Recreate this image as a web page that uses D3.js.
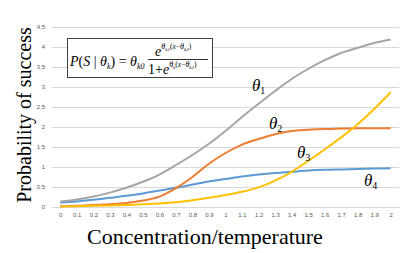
<!DOCTYPE html>
<html>
<head>
<meta charset="utf-8">
<script src="https://cdn.jsdelivr.net/npm/d3@7"></script>
<style>
  body { margin: 0; background: #fff; }
  svg { display: block; }
</style>
</head>
<body>
<div id="chart"></div>
<script>
const categories = ["0", "0.1", "0.2", "0.3", "0.4", "0.5", "0.6", "0.7", "0.8", "0.9", "1",
  "1.1", "1.2", "1.3", "1.4", "1.5", "1.6", "1.7", "1.8", "1.9", "2"];
const yTicks = [0, 0.5, 1, 1.5, 2, 2.5, 3, 3.5, 4, 4.5];

// four curves, one value per category
const theta1 = [0.14, 0.19, 0.26, 0.36, 0.48, 0.63, 0.81, 1.05, 1.30, 1.58, 1.90,
  2.25, 2.58, 2.90, 3.20, 3.45, 3.67, 3.85, 3.98, 4.10, 4.19];
const theta2 = [0.02, 0.03, 0.05, 0.07, 0.10, 0.16, 0.26, 0.47, 0.75, 1.08, 1.35,
  1.56, 1.70, 1.82, 1.90, 1.93, 1.95, 1.96, 1.97, 1.97, 1.97];
const theta3 = [0.01, 0.02, 0.03, 0.04, 0.05, 0.07, 0.09, 0.12, 0.17, 0.23, 0.30,
  0.38, 0.49, 0.66, 0.88, 1.15, 1.44, 1.74, 2.07, 2.45, 2.87];
const theta4 = [0.11, 0.14, 0.18, 0.23, 0.28, 0.34, 0.41, 0.48, 0.56, 0.64, 0.70,
  0.76, 0.81, 0.85, 0.88, 0.91, 0.93, 0.94, 0.95, 0.96, 0.97];
const seriesNames = ["1", "2", "3", "4"];

const W = 415, H = 253;
const PLOT = { LEFT: 52, RIGHT: 399, TOP: 27, BOTTOM: 207 };

const svg = d3.select("#chart").append("svg")
  .attr("width", W)
  .attr("height", H);

const x = d3.scalePoint()
  .domain(categories)
  .range([PLOT.LEFT, PLOT.RIGHT])
  .padding(0.5);

const y = d3.scaleLinear()
  .domain([0, 4.5])
  .range([PLOT.BOTTOM, PLOT.TOP]);

// gridlines + y labels
const yAxis = d3.axisLeft(y)
  .tickValues(yTicks)
  .tickSize(-(PLOT.RIGHT - PLOT.LEFT))
  .tickPadding(7)
  .tickFormat(d3.format("~g"));

svg.append("g")
  .attr("transform", `translate(${PLOT.LEFT},0)`)
  .call(yAxis)
  .call(g => g.select(".domain").remove())
  .call(g => g.selectAll("line").attr("stroke", "#d9d9d9"))
  .call(g => g.selectAll("text")
    .attr("fill", "#595959")
    .attr("font-family", "Liberation Sans, Arial, sans-serif")
    .attr("font-size", 6));

// x labels
const xAxis = d3.axisBottom(x).tickSize(0).tickPadding(6);
svg.append("g")
  .attr("transform", `translate(0,${PLOT.BOTTOM})`)
  .call(xAxis)
  .call(g => g.select(".domain").attr("stroke", "#d9d9d9"))
  .call(g => g.selectAll("text")
    .attr("fill", "#595959")
    .attr("font-family", "Liberation Sans, Arial, sans-serif")
    .attr("font-size", 6));

// curves
const series = [
  { name: "1", values: theta1, color: "#a5a5a5" },
  { name: "2", values: theta2, color: "#ed7d31" },
  { name: "3", values: theta3, color: "#ffc000" },
  { name: "4", values: theta4, color: "#5b9bd5" }
];

const line = d3.line()
  .x((d, i) => x(categories[i]))
  .y(d => y(d))
  .curve(d3.curveMonotoneX);

svg.selectAll("path.series")
  .data([series[3], series[1], series[0], series[2]])
  .enter().append("path")
    .attr("class", "series")
    .attr("fill", "none")
    .attr("stroke", d => d.color)
    .attr("stroke-width", 2)
    .attr("stroke-linejoin", "round")
    .attr("d", d => line(d.values));

// theta labels on the curves
const serif = "Liberation Serif, Times New Roman, serif";
const labelPos = [[252, 91], [269, 129], [297, 158], [364, 186]];
seriesNames.forEach((n, i) => {
  const t = svg.append("text")
    .attr("x", labelPos[i][0])
    .attr("y", labelPos[i][1])
    .attr("font-family", serif)
    .attr("font-style", "italic")
    .attr("font-size", 17)
    .attr("fill", "#000");
  t.append("tspan").text("θ");
  t.append("tspan").attr("font-size", 10).attr("font-style", "normal").attr("dy", 3).text(n);
});

// formula box
const box = svg.append("g");
box.append("rect")
  .attr("x", 67.5).attr("y", 38.5)
  .attr("width", 145).attr("height", 39)
  .attr("fill", "#fff")
  .attr("stroke", "#404040")
  .attr("stroke-width", 1);

const lhs = box.append("text")
  .attr("x", 70).attr("y", 66)
  .attr("font-family", serif)
  .attr("font-size", 14);
lhs.append("tspan").attr("font-style", "italic").text("P");
lhs.append("tspan").text("(");
lhs.append("tspan").attr("font-style", "italic").text("S");
lhs.append("tspan").text(" | ");
lhs.append("tspan").attr("font-style", "italic").text("θ");
lhs.append("tspan").attr("font-style", "italic").attr("font-size", 8).attr("dy", 3).text("k");
lhs.append("tspan").attr("dy", -3).text(") = ");
lhs.append("tspan").attr("font-style", "italic").text("θ");
lhs.append("tspan").attr("font-style", "italic").attr("font-size", 8).attr("dy", 3).text("k0");

// fraction
box.append("line")
  .attr("x1", 148).attr("x2", 208)
  .attr("y1", 59.5).attr("y2", 59.5)
  .attr("stroke", "#000").attr("stroke-width", 0.8);

function exponent(t, sub) {
  t.append("tspan").attr("font-style", "italic").attr("font-size", 8).attr("dy", -7).text("θ");
  t.append("tspan").attr("font-style", "italic").attr("font-size", 5).attr("dy", 1.5).text(sub);
  t.append("tspan").attr("font-size", 7.5).attr("dy", -1.5).text("(");
  t.append("tspan").attr("font-style", "italic").attr("font-size", 7.5).text("x");
  t.append("tspan").attr("font-size", 7.5).text("−");
  t.append("tspan").attr("font-style", "italic").attr("font-size", 8).text("θ");
  t.append("tspan").attr("font-style", "italic").attr("font-size", 5).attr("dy", 1.5).text("k2");
  t.append("tspan").attr("font-size", 7.5).attr("dy", -1.5).text(")");
}

const num = box.append("text")
  .attr("x", 155).attr("y", 56)
  .attr("font-family", serif)
  .attr("font-size", 14);
num.append("tspan").attr("font-style", "italic").text("e");
exponent(num, "k1");

const den = box.append("text")
  .attr("x", 148).attr("y", 74)
  .attr("font-family", serif)
  .attr("font-size", 14);
den.append("tspan").text("1+");
den.append("tspan").attr("font-style", "italic").text("e");
exponent(den, "k");

// axis titles
svg.append("text")
  .attr("transform", "rotate(-90)")
  .attr("x", -115)
  .attr("y", 31)
  .attr("text-anchor", "middle")
  .attr("font-family", serif)
  .attr("font-size", 20)
  .attr("fill", "#000")
  .text("Probability of success");

svg.append("text")
  .attr("x", 205)
  .attr("y", 244)
  .attr("text-anchor", "middle")
  .attr("font-family", serif)
  .attr("font-size", 22)
  .attr("fill", "#000")
  .text("Concentration/temperature");
</script>
</body>
</html>
